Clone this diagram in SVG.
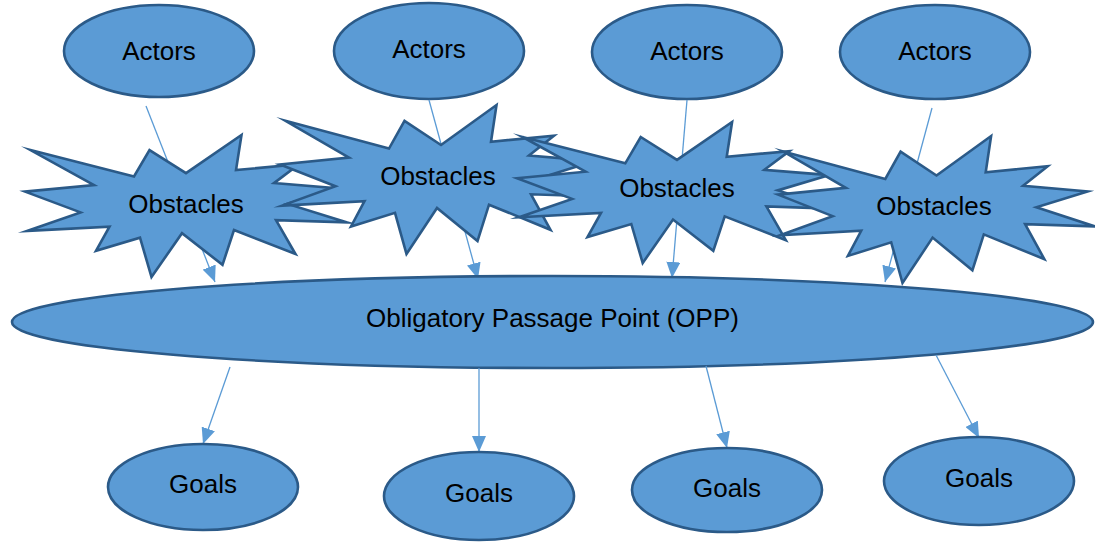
<svg xmlns="http://www.w3.org/2000/svg" width="1095" height="547" viewBox="0 0 1095 547">
  <style>
    .shape { fill: #5B9BD5; stroke: #2B5A88; stroke-width: 2.6; }
    .burst { fill: #5B9BD5; stroke: #2B5A88; stroke-width: 2.6; stroke-linejoin: miter; stroke-miterlimit: 10; }
    .label { font-family: "Liberation Sans", Arial, sans-serif; font-size: 26px; fill: #000; text-anchor: middle; }
    .link { stroke: #5B9BD5; stroke-width: 1.3; fill: none; marker-end: url(#arrow); }
  </style>
  <defs>
    <marker id="arrow" markerUnits="userSpaceOnUse" markerWidth="16" markerHeight="14" refX="16" refY="7" orient="auto">
      <path d="M0,0 L16,7 L0,14 Z" fill="#5B9BD5"/>
    </marker>
  </defs>

  <rect width="1095" height="547" fill="#fff"/>

  <g id="actor-1"><ellipse class="shape" cx="159" cy="51" rx="95" ry="46"/><text class="label" x="159" y="60">Actors</text></g>
  <g id="actor-2"><ellipse class="shape" cx="429" cy="51" rx="95" ry="48"/><text class="label" x="429" y="58">Actors</text></g>
  <g id="actor-3"><ellipse class="shape" cx="687" cy="52" rx="95" ry="47"/><text class="label" x="687" y="60">Actors</text></g>
  <g id="actor-4"><ellipse class="shape" cx="935" cy="52" rx="95" ry="47"/><text class="label" x="935" y="60">Actors</text></g>

  <g id="connectors-top">
    <line class="link" x1="146" y1="106" x2="215" y2="282"/>
    <line class="link" x1="429" y1="100" x2="478" y2="279"/>
    <line class="link" x1="687" y1="100" x2="672" y2="278"/>
    <line class="link" x1="932" y1="108" x2="885" y2="282"/>
  </g>

  <!-- explosion-shaped obstacle nodes -->
  <g id="obstacle-1">
    <polygon class="burst" points="186,173.1 241.5,135 236,170 299,164.3 274,183.1 339.5,188.5 287.5,203.9 347,222.4 276,220.1 295.5,254 234,230 222.5,264.8 182,233.2 151.5,277 140,237.7 96,250.8 109.5,226.6 27,230.9 80.5,212.4 25,191.6 94,185.1 30.5,150.1 134,176.5 149.5,150.1"/>
    <text class="label" x="186" y="213">Obstacles</text>
  </g>
  <g id="obstacle-2">
    <polygon class="burst" points="441,145 496.5,105 491,141.7 554,135.7 529,155.5 594.5,161.1 542.5,177.3 602,196.7 531,194.3 550.5,229.8 489,204.7 477.5,241.1 437,208 406.5,254 395,212.8 351,226.5 364.5,201.1 282,205.6 335.5,186.2 280,164.4 349,157.5 285.5,120.8 389,148.6 404.5,120.8"/>
    <text class="label" x="438" y="185">Obstacles</text>
  </g>
  <g id="obstacle-3">
    <polygon class="burst" points="677,159.9 732.1,122 726.7,156.8 789.3,151.1 764.4,169.8 829.5,175.1 777.8,190.4 837,208.8 766.4,206.5 785.8,240.1 724.7,216.4 713.3,250.8 673,219.5 642.7,263 631.3,224 587.5,237 601,213 519,217.2 572.1,198.9 517,178.2 585.5,171.7 522.5,137 625.3,163.3 640.7,137"/>
    <text class="label" x="677" y="197">Obstacles</text>
  </g>
  <g id="obstacle-4">
    <polygon class="burst" points="936.5,175.5 991.1,136 985.7,172.2 1047.7,166.3 1023.1,185.8 1087.6,191.4 1036.4,207.3 1095,226.4 1025.1,224.1 1044.3,259.1 983.8,234.4 972.4,270.3 932.6,237.6 902.5,283 891.2,242.3 847.9,255.9 861.2,230.8 780,235.3 832.6,216.1 778,194.6 845.9,187.8 783.4,151.6 885.3,179 900.6,151.6"/>
    <text class="label" x="934" y="215">Obstacles</text>
  </g>

  <g id="opp">
    <ellipse class="shape" cx="552.5" cy="322" rx="540.5" ry="46"/>
    <text class="label" x="552.5" y="327">Obligatory Passage Point (OPP)</text>
  </g>

  <g id="connectors-bottom">
    <line class="link" x1="230" y1="367" x2="203" y2="444"/>
    <line class="link" x1="479" y1="368" x2="479" y2="452"/>
    <line class="link" x1="706" y1="366" x2="727" y2="448"/>
    <line class="link" x1="936" y1="355" x2="979" y2="438"/>
  </g>

  <g id="goal-1"><ellipse class="shape" cx="203" cy="487" rx="95" ry="43"/><text class="label" x="203" y="493">Goals</text></g>
  <g id="goal-2"><ellipse class="shape" cx="479" cy="496" rx="95" ry="44"/><text class="label" x="479" y="502">Goals</text></g>
  <g id="goal-3"><ellipse class="shape" cx="727" cy="490" rx="95" ry="42"/><text class="label" x="727" y="497">Goals</text></g>
  <g id="goal-4"><ellipse class="shape" cx="979" cy="481" rx="95" ry="44"/><text class="label" x="979" y="487">Goals</text></g>
</svg>
